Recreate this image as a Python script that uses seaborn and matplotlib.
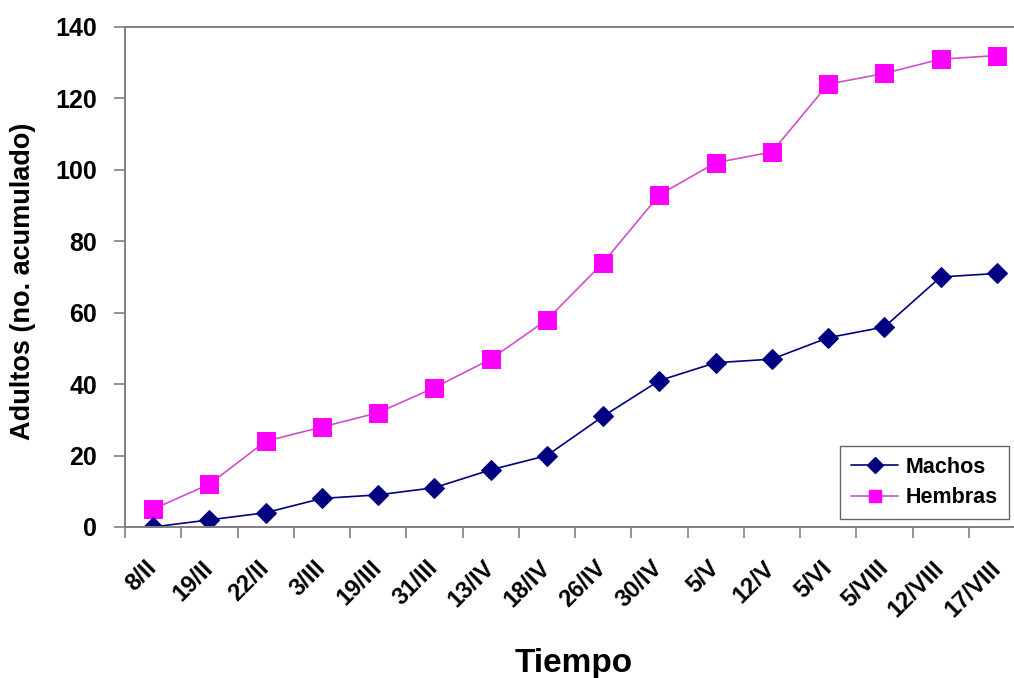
import matplotlib
matplotlib.use("Agg")
import matplotlib.pyplot as plt
from matplotlib.lines import Line2D
import seaborn as sns
import pandas as pd
import numpy as np

# Fechas de muestreo y adultos acumulados por sexo
fechas = ["8/II", "19/II", "22/II", "3/III", "19/III", "31/III", "13/IV", "18/IV",
          "26/IV", "30/IV", "5/V", "12/V", "5/VI", "5/VIII", "12/VIII", "17/VIII"]
machos = [0, 2, 4, 8, 9, 11, 16, 20, 31, 41, 46, 47, 53, 56, 70, 71]
hembras = [5, 12, 24, 28, 32, 39, 47, 58, 74, 93, 102, 105, 124, 127, 131, 132]
yticks = [0, 20, 40, 60, 80, 100, 120, 140]

sns.set_style("white")
plt.rcParams["font.family"] = ["Liberation Sans", "DejaVu Sans"]
plt.rcParams["font.weight"] = "bold"
plt.rcParams["text.color"] = "black"
plt.rcParams["xtick.color"] = "black"
plt.rcParams["ytick.color"] = "black"

df = pd.DataFrame({"Fecha": fechas * 2,
                   "Adultos": machos + hembras,
                   "Sexo": ["Machos"] * len(fechas) + ["Hembras"] * len(fechas)})

W, H = 1014, 678
fig = plt.figure(figsize=(W / 100, H / 100), dpi=100)
ax = fig.add_axes([125 / W, (H - 527) / H, 900 / W, 500 / H])

navy = "#000080"
magenta = "#ff00ff"

sns.lineplot(data=df[df.Sexo == "Hembras"], x="Fecha", y="Adultos", ax=ax,
             color="#d050c8", lw=1.2, marker="s", markersize=13,
             markerfacecolor=magenta, markeredgecolor=magenta, sort=False)
sns.lineplot(data=df[df.Sexo == "Machos"], x="Fecha", y="Adultos", ax=ax,
             color=navy, lw=1.2, marker="D", markersize=10,
             markerfacecolor=navy, markeredgecolor=navy, sort=False)

n = len(fechas)
ax.set_xlim(-0.5, n - 0.5)
ax.set_ylim(0, 140)
ax.set_yticks(yticks)
ax.set_yticklabels([str(v) for v in yticks], fontsize=18, fontweight="bold")

# category labels centred on points, tick marks on the category boundaries
ax.set_xticks(range(n))
ax.set_xticklabels(fechas, fontsize=17, fontweight="bold", rotation=45,
                   ha="right", va="center", rotation_mode="anchor")
ax.set_xticks(np.arange(-0.5, n, 1.0), minor=True)
ax.tick_params(axis="x", which="major", length=0, pad=27)
ax.tick_params(axis="x", which="minor", length=8, width=1.2, color="#808080", direction="out")
ax.tick_params(axis="y", length=8, width=1.2, color="#808080", direction="out", pad=12)
ax.xaxis.set_ticks_position("bottom")
ax.yaxis.set_ticks_position("left")

for side in ("left", "bottom", "top"):
    ax.spines[side].set_color("#808080")
    ax.spines[side].set_linewidth(1.4)
ax.spines["right"].set_visible(False)

ax.set_xlabel("")
ax.set_ylabel("")
fig.text(23 / W, 1 - 281 / H, "Adultos (no. acumulado)", rotation=90,
         ha="center", va="center", fontsize=19.5, fontweight="bold")
fig.text(574 / W, 1 - 672 / H, "Tiempo", ha="center", va="baseline",
         fontsize=24, fontweight="bold")

handles = [Line2D([], [], color=navy, lw=1.2, marker="D", markersize=8,
                  markerfacecolor=navy, markeredgecolor=navy),
           Line2D([], [], color="#d050c8", lw=1.2, marker="s", markersize=9,
                  markerfacecolor=magenta, markeredgecolor=magenta)]
leg = ax.legend(handles, ["Machos", "Hembras"], loc="lower right",
                bbox_to_anchor=(0.982, 0.016), borderaxespad=0, fancybox=False,
                frameon=True, prop={"size": 15.5, "weight": "bold"},
                handlelength=2.2, handletextpad=0.35, labelspacing=0.45,
                borderpad=0.5)
leg.get_frame().set_edgecolor("#404040")
leg.get_frame().set_linewidth(1.0)

fig.savefig("out.png", dpi=100)
